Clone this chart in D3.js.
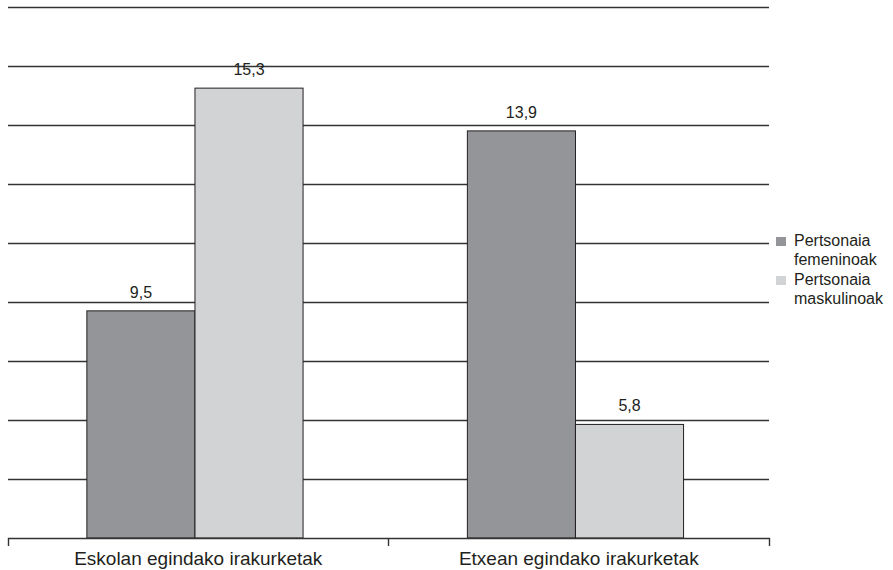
<!DOCTYPE html>
<html>
<head>
<script src="https://cdnjs.cloudflare.com/ajax/libs/d3/7.8.5/d3.min.js"></script>
  <meta charset="utf-8">
  <title>Irakurketak</title>
</head>
<style>

body {
  margin: 0;
  background: #fff;
}

svg text {
  font-family: "Liberation Sans", Arial, sans-serif;
  fill: #231f20;
}

.grid line {
  stroke: #333;
  stroke-width: 1.4;
}

.bar {
  stroke: #231f20;
  stroke-width: 1;
}

</style>

<body>
<script>

var categories = ['Eskolan egindako irakurketak', 'Etxean egindako irakurketak'];
var seriesNames = ['Pertsonaia femeninoak', 'Pertsonaia maskulinoak'];

// printed values
var femValues = [9.5, 13.9];
var mascValues = [15.3, 5.8];

// bar lengths as drawn in the source (they don't follow the printed labels)
var femBars = [7.7, 13.8];
var mascBars = [15.25, 3.85];

var yTicks = [0, 2, 4, 6, 8, 10, 12, 14, 16, 18];

var config = {
  width: 893,
  height: 570,
  left: 8,
  right: 769,
  top: 7,
  bottom: 538,
  colors: ['#939598', '#d1d3d4']
};

var comma = d3.formatLocale({decimal: ',', thousands: '.', grouping: [3], currency: ['', '']}).format('.1f');

var rows = categories.map(function(c, i) {
  return {
    cat: c,
    items: [
      {s: 0, bar: femBars[i], value: femValues[i]},
      {s: 1, bar: mascBars[i], value: mascValues[i]}
    ]
  };
});

var svg = d3.select('body').append('svg')
  .attr('width', config.width)
  .attr('height', config.height);

var x0 = d3.scaleBand().domain(categories).range([config.left, config.right]);
var x1 = d3.scaleBand().domain([0, 1]).range([0, x0.bandwidth()])
  .paddingInner(0).paddingOuter(0.76).align(0.48);
var y = d3.scaleLinear().domain([0, 18]).range([config.bottom, config.top]);

// gridlines
svg.append('g')
  .attr('class', 'grid')
  .attr('transform', 'translate(' + config.left + ',0)')
  .call(d3.axisLeft(y).tickValues(yTicks.slice(1)).tickSize(-(config.right - config.left)).tickFormat(''))
  .call(function(g) { g.select('.domain').remove(); });

// bars
var groups = svg.selectAll('.group').data(rows).enter().append('g')
  .attr('class', 'group')
  .attr('transform', function(d) { return 'translate(' + x0(d.cat) + ',0)'; });

groups.selectAll('rect').data(function(d) { return d.items; }).enter().append('rect')
  .attr('class', 'bar')
  .attr('x', function(d) { return x1(d.s); })
  .attr('width', x1.bandwidth())
  .attr('y', function(d) { return y(d.bar); })
  .attr('height', function(d) { return y(0) - y(d.bar); })
  .attr('fill', function(d) { return config.colors[d.s]; });

groups.selectAll('.lbl').data(function(d) { return d.items; }).enter().append('text')
  .attr('class', 'lbl')
  .attr('x', function(d) { return x1(d.s) + x1.bandwidth() / 2; })
  .attr('y', function(d) { return y(d.bar) - 13; })
  .attr('text-anchor', 'middle')
  .style('font-size', '16px')
  .text(function(d) { return comma(d.value); });

// x axis
var xAxis = svg.append('g')
  .attr('transform', 'translate(0,' + config.bottom + ')')
  .call(d3.axisBottom(x0).tickSizeInner(0).tickSizeOuter(8).tickPadding(13.5));

xAxis.select('.domain').attr('stroke', '#333').attr('stroke-width', 1.4);
xAxis.selectAll('text')
  .style('font-size', '19px')
  .style('font-family', '"Liberation Sans", Arial, sans-serif')
  .attr('fill', '#231f20');

xAxis.selectAll('.sep').data(categories.slice(1)).enter().append('line')
  .attr('class', 'sep')
  .attr('x1', function(d) { return x0(d); })
  .attr('x2', function(d) { return x0(d); })
  .attr('y1', 0)
  .attr('y2', 8)
  .attr('stroke', '#333')
  .attr('stroke-width', 1.4);

// legend
var legend = svg.append('g').attr('transform', 'translate(776,237)');

var items = legend.selectAll('g').data(seriesNames).enter().append('g')
  .attr('transform', function(d, i) { return 'translate(0,' + (i * 39) + ')'; });

items.append('rect')
  .attr('width', 10)
  .attr('height', 9)
  .attr('fill', function(d, i) { return config.colors[i]; });

items.append('text')
  .attr('x', 18)
  .attr('y', 9)
  .style('font-size', '16px')
  .selectAll('tspan').data(function(d) { return d.split(' '); }).enter().append('tspan')
  .attr('x', 18)
  .attr('dy', function(d, i) { return i ? 19 : 0; })
  .text(function(d) { return d; });

</script>

</body>
</html>
